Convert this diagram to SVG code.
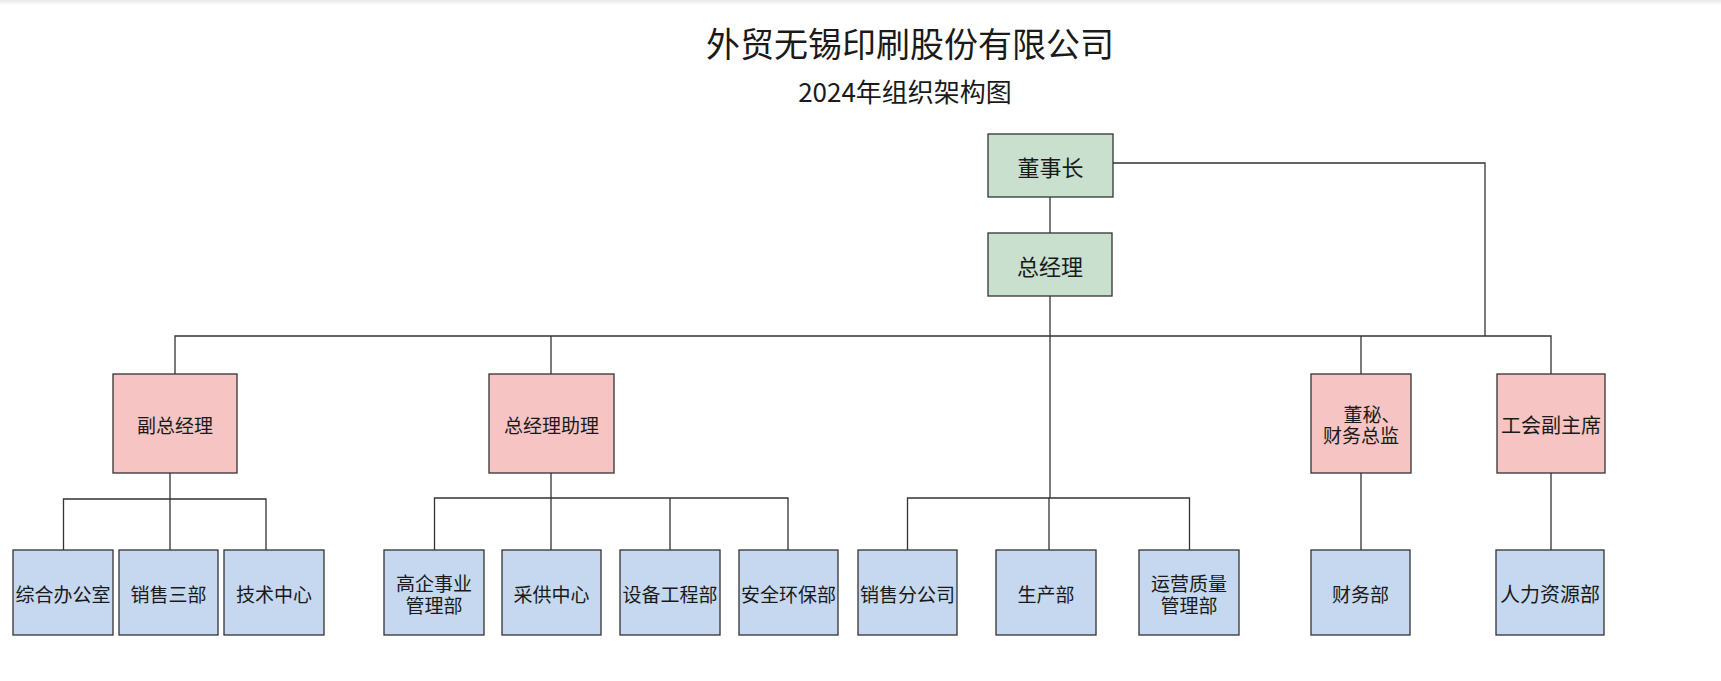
<svg xmlns="http://www.w3.org/2000/svg" width="1721" height="681" viewBox="0 0 1721 681">
<defs>
<linearGradient id="topShade" x1="0" y1="0" x2="0" y2="1">
<stop offset="0" stop-color="#e8e8e8"/>
<stop offset="1" stop-color="#ffffff"/>
</linearGradient>
</defs>
<style>
text{font-family:"Noto Sans CJK SC","Noto Sans",sans-serif;fill:#1a1a1a;text-anchor:middle;dominant-baseline:central}
.t{font-size:19px}
.big{font-size:22px}
.n rect{stroke:#333;stroke-width:1.3}
.g rect{fill:#c9e0cf}
.p rect{fill:#f5c4c3}
.b rect{fill:#c6d8ef}
#connectors path{fill:none;stroke:#333;stroke-width:1.3}
</style>
<rect x="0" y="0" width="1721" height="681" fill="#ffffff"/>
<rect x="0" y="0" width="1721" height="5" fill="url(#topShade)"/>
<g id="title">
<text x="910" y="42" style="font-size:34px">外贸无锡印刷股份有限公司</text>
<text x="905" y="90" style="font-size:26px">2024年组织架构图</text>
</g>
<g id="connectors">
<path d="M1050 197V233"/>
<path d="M1050 296V498"/>
<path d="M1113 163H1485V336"/>
<path d="M175 374V336H1551V374"/>
<path d="M551 336V374"/>
<path d="M1361 336V374"/>
<path d="M170 473V499M63.5 550V499H266V550M170 499V550"/>
<path d="M551 473V550M434.5 550V498H788V550M670 498V550"/>
<path d="M907.5 550V498H1189.5V550M1049 498V550"/>
<path d="M1361 473V550"/>
<path d="M1551 473V550"/>
</g>
<g id="n-dongshizhang" class="n g"><rect x="988" y="134" width="125" height="63"/><text class="big" x="1050.5" y="166">董事长</text></g>
<g id="n-zongjingli" class="n g"><rect x="988" y="233" width="124" height="63"/><text class="big" x="1050" y="265">总经理</text></g>
<g id="n-fuzongjingli" class="n p"><rect x="113" y="374" width="124" height="99"/><text class="t" x="175" y="424">副总经理</text></g>
<g id="n-zongjinglizhuli" class="n p"><rect x="489" y="374" width="125" height="99"/><text class="t" x="551.5" y="424">总经理助理</text></g>
<g id="n-dongmi" class="n p"><rect x="1311" y="374" width="100" height="99"/><text class="t" x="1372" y="413">董秘、</text><text class="t" x="1361" y="434">财务总监</text></g>
<g id="n-gonghui" class="n p"><rect x="1497" y="374" width="108" height="99"/><text style="font-size:20px" x="1551" y="424">工会副主席</text></g>
<g id="n-zonghe" class="n b"><rect x="13" y="550" width="100" height="85"/><text class="t" x="63" y="593">综合办公室</text></g>
<g id="n-xiaoshousan" class="n b"><rect x="119" y="550" width="99" height="85"/><text class="t" x="168.5" y="593">销售三部</text></g>
<g id="n-jishu" class="n b"><rect x="224" y="550" width="100" height="85"/><text class="t" x="274" y="593">技术中心</text></g>
<g id="n-gaoqi" class="n b"><rect x="384" y="550" width="100" height="85"/><text class="t" x="434" y="582">高企事业</text><text class="t" x="434" y="604">管理部</text></g>
<g id="n-caigong" class="n b"><rect x="502" y="550" width="99" height="85"/><text class="t" x="551.5" y="593">采供中心</text></g>
<g id="n-shebei" class="n b"><rect x="620" y="550" width="100" height="85"/><text class="t" x="670" y="593">设备工程部</text></g>
<g id="n-anquan" class="n b"><rect x="739" y="550" width="99" height="85"/><text class="t" x="788.5" y="593">安全环保部</text></g>
<g id="n-xiaoshoufen" class="n b"><rect x="858" y="550" width="99" height="85"/><text class="t" x="907.5" y="593">销售分公司</text></g>
<g id="n-shengchan" class="n b"><rect x="996" y="550" width="100" height="85"/><text class="t" x="1046" y="593">生产部</text></g>
<g id="n-yunying" class="n b"><rect x="1139" y="550" width="100" height="85"/><text class="t" x="1189" y="582">运营质量</text><text class="t" x="1189" y="604">管理部</text></g>
<g id="n-caiwu" class="n b"><rect x="1311" y="550" width="99" height="85"/><text class="t" x="1360.5" y="593">财务部</text></g>
<g id="n-renli" class="n b"><rect x="1496" y="550" width="108" height="85"/><text style="font-size:20px" x="1550" y="593">人力资源部</text></g>
</svg>
